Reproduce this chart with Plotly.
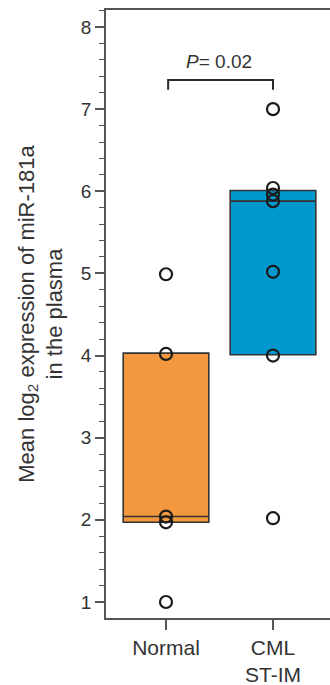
import plotly.graph_objects as go

# ---- data ----
categories = ["Normal", "CML<br>ST-IM"]
normal_points = [1.0, 1.97, 2.04, 4.02, 4.99]
cml_points = [2.02, 4.0, 5.02, 5.88, 5.96, 6.04, 7.0]
q1_vals = [1.97, 4.01]
median_vals = [2.04, 5.88]
q3_vals = [4.03, 6.01]
box_colors = ["#F3983E", "#0098CF"]
p_label = "<i>P</i>= 0.02"
y_ticks = [1, 2, 3, 4, 5, 6, 7, 8]

fig = go.Figure()

for i, cat in enumerate(categories):
    fig.add_trace(go.Box(
        x=[cat], q1=[q1_vals[i]], median=[median_vals[i]], q3=[q3_vals[i]],
        lowerfence=[q1_vals[i]], upperfence=[q3_vals[i]],
        fillcolor=box_colors[i], line=dict(color="#333333", width=1.6),
        width=0.8, whiskerwidth=0, boxpoints=False, showlegend=False,
    ))

for cat, pts in zip(categories, [normal_points, cml_points]):
    fig.add_trace(go.Scatter(
        x=[cat] * len(pts), y=pts, mode="markers",
        marker=dict(symbol="circle-open", size=12, color="#1a1a1a",
                    line=dict(width=2.2, color="#1a1a1a")),
        showlegend=False,
    ))

# significance bracket
by, bt = 7.355, 7.235
fig.add_shape(type="path", xref="x", yref="y",
              path=f"M 0.02 {bt} L 0.02 {by} L 1.0 {by} L 1.0 {bt}",
              line=dict(color="#2a2a2a", width=2))
fig.add_annotation(x=0.495, y=7.575, xref="x", yref="y", text=p_label,
                   showarrow=False, font=dict(size=19, color="#333333"))

fig.update_layout(
    width=330, height=685,
    margin=dict(l=106, r=0, t=10, b=67),
    plot_bgcolor="white", paper_bgcolor="white",
    font=dict(family="Liberation Sans, Arial, sans-serif", color="#333333"),
    xaxis=dict(
        type="category", range=[-0.5607, 1.5327],
        showline=True, linecolor="#555555", linewidth=1.6, mirror=True,
        ticks="outside", ticklen=10, tickwidth=1.6, tickcolor="#555555",
        tickfont=dict(size=21, color="#333333"), showgrid=False, zeroline=False,
    ),
    yaxis=dict(
        range=[0.805, 8.207], tickvals=y_ticks,
        showline=True, linecolor="#555555", linewidth=1.6,
        ticks="outside", ticklen=9, tickwidth=1.6, tickcolor="#555555",
        minor=dict(dtick=0.2, ticks="outside", ticklen=5, tickwidth=1.4, tickcolor="#555555"),
        tickfont=dict(size=19, color="#333333"), showgrid=False, zeroline=False,
        title=dict(text="Mean log<sub>2</sub> expression of miR-181a<br>in the plasma",
                   font=dict(size=22, color="#333333"), standoff=12),
    ),
)

fig.write_html("out.html", config={"displayModeBar": False})
with open("out.html", "r", encoding="utf-8") as f:
    html = f.read()
html = html.replace("<body>", '<body style="margin:0;padding:0;overflow:hidden">', 1)
with open("out.html", "w", encoding="utf-8") as f:
    f.write(html)
